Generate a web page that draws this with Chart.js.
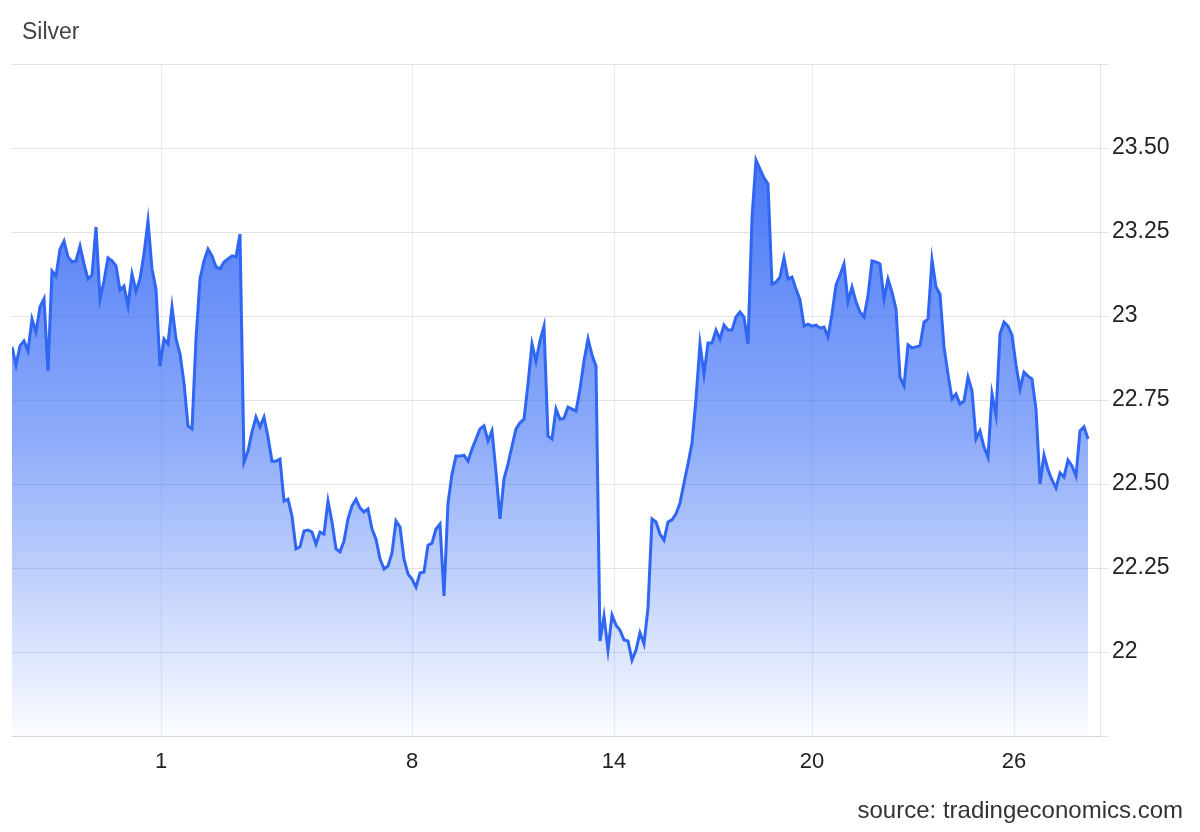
<!DOCTYPE html>
<html>
<head>
<meta charset="utf-8">
<script src="https://cdn.jsdelivr.net/npm/chart.js@4.4.1/dist/chart.umd.min.js"></script>
<style>
    html, body { margin: 0; padding: 0; background: #fff; }
    #wrap { position: relative; width: 1200px; height: 832px; font-family: "Liberation Sans", Arial, sans-serif; }
    #title { position: absolute; left: 22px; top: 18px; font-size: 23px; color: #444; }
    #source { position: absolute; right: 17px; top: 796px; font-size: 24px; color: #333; }
</style>
</head>
<body>
<div id="wrap">
    <canvas id="chart" width="1200" height="832"></canvas>
    <div id="title">Silver</div>
    <div id="source">source: tradingeconomics.com</div>
</div>
<script>
// Silver price, intraday samples (oldest first)
const prices = [
    22.908, 22.854, 22.911, 22.926, 22.896, 22.991, 22.952, 23.027, 23.051, 22.836,
    23.134, 23.119, 23.199, 23.223, 23.176, 23.161, 23.164, 23.208, 23.155, 23.110,
    23.122, 23.265, 23.051, 23.104, 23.173, 23.164, 23.149, 23.077, 23.089, 23.030,
    23.125, 23.074, 23.110, 23.185, 23.283, 23.140, 23.080, 22.851, 22.932, 22.917,
    23.027, 22.932, 22.887, 22.801, 22.673, 22.664, 22.932, 23.110, 23.164, 23.199,
    23.179, 23.146, 23.140, 23.161, 23.170, 23.179, 23.176, 23.244, 22.565, 22.598,
    22.655, 22.699, 22.670, 22.699, 22.640, 22.568, 22.568, 22.574, 22.449, 22.455,
    22.405, 22.307, 22.313, 22.360, 22.363, 22.357, 22.321, 22.357, 22.351, 22.449,
    22.387, 22.307, 22.298, 22.330, 22.396, 22.435, 22.455, 22.429, 22.417, 22.426,
    22.366, 22.336, 22.277, 22.247, 22.256, 22.295, 22.390, 22.372, 22.277, 22.232,
    22.217, 22.193, 22.235, 22.238, 22.318, 22.324, 22.366, 22.381, 22.167, 22.443,
    22.530, 22.583, 22.583, 22.586, 22.568, 22.604, 22.634, 22.664, 22.673, 22.628,
    22.658, 22.536, 22.396, 22.515, 22.560, 22.613, 22.664, 22.682, 22.693, 22.798,
    22.917, 22.866, 22.926, 22.970, 22.643, 22.634, 22.723, 22.693, 22.696, 22.729,
    22.723, 22.717, 22.783, 22.866, 22.932, 22.884, 22.851, 22.033, 22.107, 22.006,
    22.110, 22.080, 22.065, 22.036, 22.033, 21.976, 22.006, 22.057, 22.024, 22.131,
    22.396, 22.387, 22.351, 22.333, 22.387, 22.393, 22.411, 22.443, 22.503, 22.560,
    22.622, 22.753, 22.917, 22.827, 22.920, 22.920, 22.958, 22.932, 22.973, 22.958,
    22.958, 22.997, 23.012, 22.997, 22.917, 23.292, 23.464, 23.437, 23.411, 23.393,
    23.095, 23.101, 23.116, 23.173, 23.110, 23.116, 23.080, 23.048, 22.970, 22.976,
    22.970, 22.973, 22.964, 22.967, 22.938, 23.006, 23.092, 23.122, 23.155, 23.042,
    23.086, 23.042, 23.012, 22.997, 23.060, 23.164, 23.161, 23.155, 23.051, 23.110,
    23.071, 23.021, 22.818, 22.792, 22.914, 22.905, 22.908, 22.911, 22.982, 22.991,
    23.167, 23.086, 23.065, 22.908, 22.827, 22.753, 22.768, 22.738, 22.747, 22.818,
    22.777, 22.634, 22.658, 22.610, 22.580, 22.768, 22.705, 22.946, 22.982, 22.970,
    22.943, 22.854, 22.783, 22.833, 22.821, 22.812, 22.723, 22.500, 22.586, 22.542,
    22.512, 22.488, 22.533, 22.521, 22.571, 22.554, 22.524, 22.658, 22.670, 22.634
];

// day-of-month labels and the sample index where each day starts
const dayLabels = ['1', '8', '14', '20', '26'];
const dayPositions = [37.25, 100, 150.5, 200, 250.5];

// price axis
const priceTicks = [21.75, 22, 22.25, 22.5, 22.75, 23, 23.25, 23.5, 23.75];
const priceLabels = ['', '22', '22.25', '22.50', '22.75', '23', '23.25', '23.50', ''];

const lineColor = '#2f66f2';

function areaFill(context) {
    const chart = context.chart;
    const area = chart.chartArea;
    if (!area) return 'rgba(47,102,242,0.5)';
    const g = chart.ctx.createLinearGradient(0, area.top, 0, area.bottom);
    g.addColorStop(0, 'rgba(45,100,245,0.98)');
    g.addColorStop(0.55, 'rgba(45,100,245,0.55)');
    g.addColorStop(1, 'rgba(45,100,245,0.02)');
    return g;
}

const ctx = document.getElementById('chart');
new Chart(ctx, {
    type: 'line',
    data: {
        datasets: [{
            label: 'Silver',
            data: prices.map((p, i) => ({ x: i, y: p })),
            borderColor: lineColor,
            borderWidth: 3,
            backgroundColor: areaFill,
            fill: 'start',
            pointRadius: 0,
            tension: 0
        }]
    },
    options: {
        responsive: false,
        animation: false,
        layout: { padding: { left: 12, top: 64, right: 0, bottom: 0 } },
        plugins: {
            legend: { display: false },
            tooltip: { enabled: false }
        },
        scales: {
            x: {
                type: 'linear',
                min: 0,
                max: 272,
                afterFit: function(scale) { scale.height = 96; },
                afterBuildTicks: function(scale) {
                    scale.ticks = dayPositions.map(v => ({ value: v }));
                },
                grid: { color: '#e7edf3', drawTicks: false },
                border: { display: true, color: '#d4d4d4' },
                ticks: {
                    padding: 13,
                    color: '#222',
                    font: { family: 'Liberation Sans', size: 22 },
                    maxRotation: 0,
                    callback: function(value) {
                        const i = dayPositions.indexOf(value);
                        return i >= 0 ? dayLabels[i] : '';
                    }
                }
            },
            y: {
                position: 'right',
                min: 21.75,
                max: 23.75,
                afterFit: function(scale) { scale.width = 100; },
                afterBuildTicks: function(scale) {
                    scale.ticks = priceTicks.map(v => ({ value: v }));
                },
                grid: { color: '#e3e3e3', tickLength: 8 },
                border: { display: true, color: '#e3e3e3' },
                ticks: {
                    padding: 4,
                    color: '#222',
                    font: { family: 'Liberation Sans', size: 23 },
                    callback: function(value) {
                        const i = priceTicks.indexOf(value);
                        return i >= 0 ? priceLabels[i] : '';
                    }
                }
            }
        }
    }
});
</script>
</body>
</html>
